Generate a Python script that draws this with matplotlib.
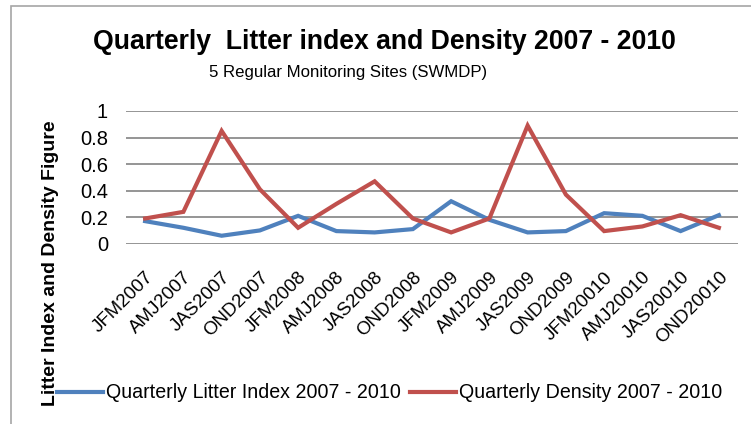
import numpy as np
import matplotlib
matplotlib.use('Agg')
import matplotlib.pyplot as plt
from matplotlib.patches import Rectangle

# ── Quarterly values, 2007 - 2010 ─────────────────────────────────────────
quarters = ['JFM2007', 'AMJ2007', 'JAS2007', 'OND2007',
            'JFM2008', 'AMJ2008', 'JAS2008', 'OND2008',
            'JFM2009', 'AMJ2009', 'JAS2009', 'OND2009',
            'JFM20010', 'AMJ20010', 'JAS20010', 'OND20010']
litter_index = [0.17, 0.12, 0.06, 0.10, 0.21, 0.095, 0.085, 0.11,
                0.32, 0.18, 0.085, 0.095, 0.23, 0.21, 0.095, 0.215]
density = [0.19, 0.24, 0.85, 0.41, 0.12, 0.30, 0.47, 0.19,
           0.085, 0.19, 0.89, 0.37, 0.095, 0.13, 0.215, 0.12]
yticks = [0, 0.2, 0.4, 0.6, 0.8, 1]
ytick_labels = ['0', '0.2', '0.4', '0.6', '0.8', '1']

BLUE = '#4F81BD'
RED = '#C0504D'
GRID = '#8C8C8C'

plt.rcParams['font.family'] = ['Liberation Sans', 'DejaVu Sans']

W, H = 751, 424
fig = plt.figure(figsize=(W / 100, H / 100), dpi=100)
fig.patch.set_facecolor('white')

# chart frame (runs off the right and bottom edge)
fig.patches.append(Rectangle((11 / W, -0.2), 1.2, 1.2 - 6 / H,
                             transform=fig.transFigure, fill=False,
                             edgecolor='#A6A6A6', linewidth=1.2))

ax = fig.add_axes([126 / W, 1 - 243.7 / H, (738 - 126) / W, (243.7 - 111) / H])
x = np.arange(len(quarters))
ax.plot(x, litter_index, color=BLUE, linewidth=3.0, solid_joinstyle='miter',
        label='Quarterly Litter Index 2007 - 2010', zorder=3)
ax.plot(x, density, color=RED, linewidth=3.0, solid_joinstyle='miter',
        label='Quarterly Density 2007 - 2010', zorder=3)

ax.set_xlim(-0.5, len(quarters) - 0.5)
ax.set_ylim(0, 1)
ax.set_yticks(yticks)
ax.set_yticklabels(ytick_labels, fontsize=14.5)
ax.yaxis.grid(True, color=GRID, linewidth=1.3)
ax.set_axisbelow(True)
for s in ax.spines.values():
    s.set_visible(False)
ax.tick_params(axis='both', length=0)
ax.tick_params(axis='y', pad=13)

ax.set_xticks(x)
ax.set_xticklabels(quarters, rotation=45, ha='right', va='top',
                   rotation_mode='anchor', fontsize=13.5)
ax.tick_params(axis='x', pad=18)

fig.text(93 / W, 1 - 42 / H, 'Quarterly  Litter index and Density 2007 - 2010',
         fontsize=19.2, fontweight='bold', ha='left', va='center')
fig.text(348 / W, 1 - 73 / H, '5 Regular Monitoring Sites (SWMDP)',
         fontsize=12.1, ha='center', va='center')
fig.text(51 / W, 1 - 263 / H, 'Litter Index and Density Figure',
         fontsize=14, fontweight='bold', rotation=90, ha='center', va='center')

fig.legend(loc='center left', bbox_to_anchor=(57 / W, 1 - 393 / H), ncol=2,
           frameon=False, fontsize=14.1, handlelength=2.35, handletextpad=0.15,
           columnspacing=0.45, borderaxespad=0, borderpad=0)

fig.savefig('out.png', dpi=100, facecolor='white')
